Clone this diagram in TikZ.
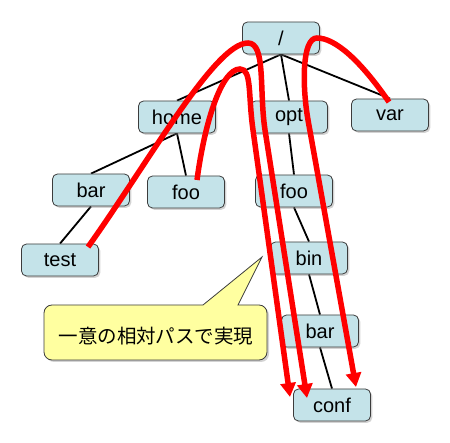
\documentclass[tikz,border=0pt]{standalone}
\usepackage{fontspec}
\setmainfont{Liberation Sans}
\newfontfamily\jpfont{Noto Sans CJK JP}
\usetikzlibrary{arrows.meta,shadows,calc,backgrounds}
\definecolor{boxblue}{RGB}{196,227,233}
\definecolor{boxline}{RGB}{60,60,60}
\definecolor{noteyellow}{RGB}{255,255,160}
\definecolor{arrowred}{RGB}{255,0,0}
\tikzset{
  dirbox/.style={rectangle, rounded corners=5pt, minimum width=77pt, minimum height=32pt,
    inner sep=0pt, fill=boxblue, draw=boxline, line width=0.8pt,
    drop shadow={shadow xshift=1.8pt, shadow yshift=-1.8pt, opacity=0.35, fill=gray},
    font=\fontsize{20}{22}\selectfont},
  treeline/.style={draw=black, line width=1.8pt},
  patharrow/.style={draw=arrowred, line width=5.5pt, line cap=butt,
    -{Triangle[length=14pt,width=15pt]}},
  notebox/.style={fill=noteyellow, draw=boxline, line width=0.8pt}
}
\begin{document}
\begin{tikzpicture}[x=1pt,y=-1pt]
\useasboundingbox (0,0) rectangle (450,443);
% nodes
\node[dirbox] (root) at (281,38) {/};
\node[dirbox] (home) at (177,117) {home};
\node[dirbox] (opt)  at (289,117) {opt};
\node[dirbox] (var)  at (390,115) {var};
\node[dirbox] (hbar) at (91,190) {bar};
\node[dirbox] (hfoo) at (186,192) {foo};
\node[dirbox] (test) at (60,260) {test};
\node[dirbox] (ofoo) at (294,191) {foo};
\node[dirbox] (bin)  at (309,258) {bin};
\node[dirbox] (obar) at (320,331) {bar};
\node[dirbox] (conf) at (332,405) {conf};
% tree lines (behind boxes)
\begin{scope}[on background layer]
\draw[treeline] (root.south) -- (home.north);
\draw[treeline] (root.south) -- (opt.north);
\draw[treeline] (root.south) -- (var.north);
\draw[treeline] (home.south) -- (hbar.north);
\draw[treeline] (home.south) -- (hfoo.north);
\draw[treeline] (hbar.south) -- (test.north);
\draw[treeline] (opt.south) -- (ofoo.north);
\draw[treeline] (ofoo.south) -- (bin.north);
\draw[treeline] (bin.south) -- (obar.north);
\draw[treeline] (obar.south) -- (conf.north);
\end{scope}
% callout
\fill[gray, opacity=0.35, rounded corners=8pt] (46,334) |- (205,307) -- (238,307) -| (269,362) -| cycle;
\path[notebox] (44,332) [rounded corners=8pt] |- (150,305) [sharp corners] -- (203,305) -- (262,257) -- (238,305) -- (245,305) [rounded corners=8pt] -| (267,360) -| (44,340) [sharp corners] -- cycle;
\node[font=\jpfont\fontsize{19.5}{22}\selectfont, inner sep=0pt] (note) at (156,336) {一意の相対パスで実現};
% red arrows
\path[patharrow] ($(test.center)+(28,-13)$) .. controls (150,160) and (215,43) .. (248,43)
  .. controls (266,43) and (259,90) .. (265,130) -- ($(conf.center)+(-25,-7)$);
\path[patharrow] ($(hfoo.center)+(11,-12)$) .. controls (205,120) and (222,69) .. (240,69)
  .. controls (252,69) and (248,95) .. (253,130) -- ($(conf.center)+(-42,-8)$);
\path[patharrow] ($(var.center)+(-1,-13)$) .. controls (360,60) and (335,38) .. (317,38)
  .. controls (302,38) and (302,85) .. (308,120) -- ($(conf.center)+(24,-18)$);
\end{tikzpicture}
\end{document}
